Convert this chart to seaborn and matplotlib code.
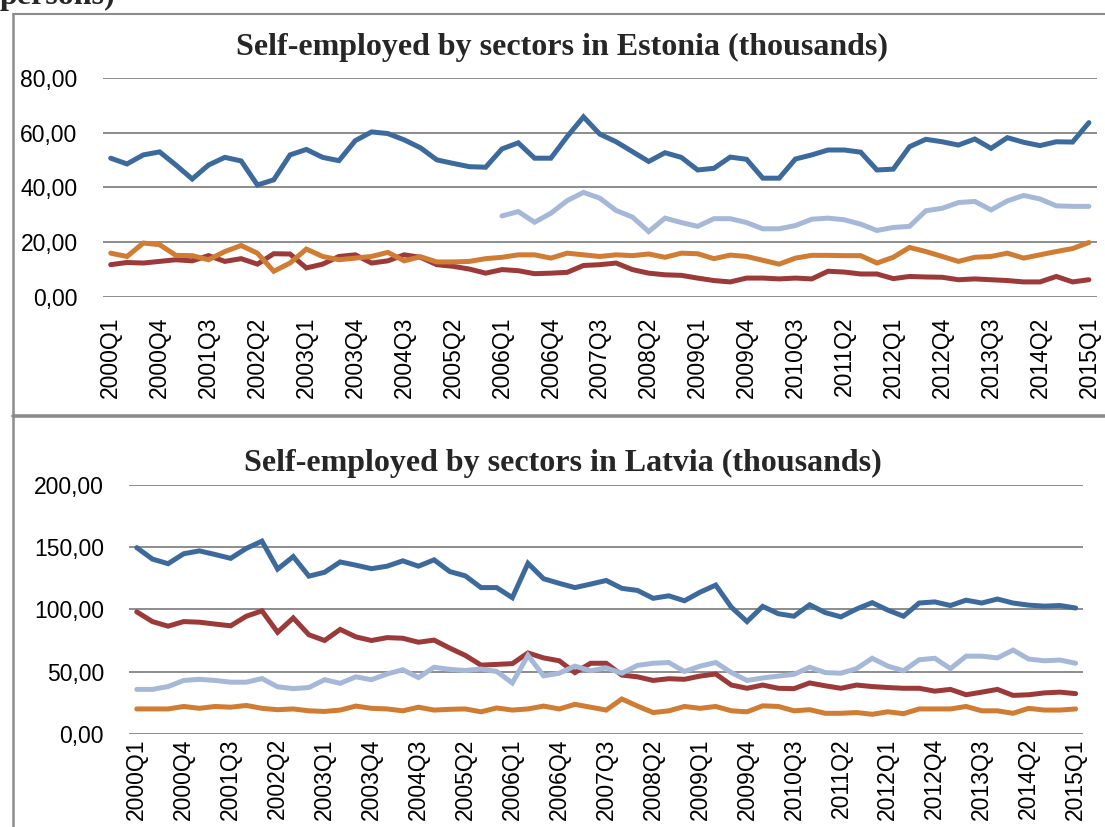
import matplotlib
matplotlib.use("Agg")
import matplotlib.pyplot as plt
from matplotlib.lines import Line2D
import numpy as np
import pandas as pd
import seaborn as sns

quarters = ["%dQ%d" % (y, q) for y in range(2000, 2016) for q in range(1, 5)][:61]
tick_labels = quarters[::3]

est_blue = [50.7, 48.6, 51.9, 53.0, 48.2, 43.1, 48.2, 51.0, 49.7, 40.9, 42.8, 51.9, 53.9, 51.0, 49.8, 57.1,
            60.3, 59.7, 57.4, 54.5, 50.1, 48.8, 47.6, 47.4, 54.1, 56.3, 50.7, 50.7, 58.6, 65.8, 59.5, 56.7,
            53.1, 49.5, 52.7, 51.0, 46.4, 47.0, 51.1, 50.3, 43.4, 43.4, 50.4, 51.9, 53.7, 53.7, 52.9, 46.4,
            46.7, 54.9, 57.6, 56.7, 55.5, 57.7, 54.3, 58.2, 56.5, 55.3, 56.7, 56.6, 63.7]
# light blue series only starts in 2006Q1
est_light = [29.6, 31.2, 27.3, 30.6, 35.2, 38.2, 36.1, 31.6, 29.2, 23.9, 28.8, 27.2, 25.8, 28.6, 28.6, 27.2,
             24.9, 24.9, 26.1, 28.4, 28.8, 28.2, 26.6, 24.3, 25.4, 25.8, 31.5, 32.4, 34.5, 34.9, 31.8, 35.1,
             37.1, 35.8, 33.3, 33.1, 33.1]
est_orange = [16.0, 14.8, 19.7, 19.1, 15.2, 15.1, 13.6, 16.6, 18.8, 16.0, 9.4, 12.4, 17.5, 14.8, 13.6, 14.2,
              14.8, 16.3, 13.2, 14.7, 12.8, 12.8, 13.0, 14.0, 14.5, 15.4, 15.4, 14.2, 16.0, 15.4, 14.8, 15.4,
              15.1, 15.7, 14.5, 16.0, 15.8, 14.0, 15.3, 14.8, 13.4, 12.0, 14.2, 15.2, 15.2, 15.1, 15.1, 12.4,
              14.5, 18.1, 16.6, 14.8, 13.0, 14.5, 14.8, 16.0, 14.2, 15.4, 16.6, 17.7, 19.9]
est_red = [11.8, 12.6, 12.4, 13.0, 13.6, 13.2, 15.1, 13.0, 14.0, 12.0, 15.8, 15.7, 10.6, 12.0, 14.8, 15.4,
           12.4, 13.2, 15.4, 14.5, 11.8, 11.2, 10.2, 8.7, 10.0, 9.6, 8.5, 8.7, 9.0, 11.5, 11.8, 12.4,
           10.0, 8.7, 8.1, 7.9, 6.9, 6.0, 5.5, 6.9, 6.9, 6.6, 6.9, 6.6, 9.4, 9.1, 8.4, 8.4,
           6.7, 7.5, 7.3, 7.2, 6.3, 6.6, 6.3, 6.0, 5.5, 5.5, 7.5, 5.5, 6.3]

lat_blue = [149.7, 140.5, 136.8, 144.8, 147.1, 144.2, 141.1, 149.1, 154.9, 132.5, 142.5, 126.8, 129.9, 138.2,
            135.6, 132.8, 134.8, 139.1, 134.8, 139.9, 130.5, 127.0, 117.6, 117.6, 109.5, 137.1, 124.7, 121.0,
            117.6, 120.4, 123.3, 117.0, 115.3, 109.0, 111.0, 107.0, 113.9, 119.6, 101.8, 90.3, 102.5, 96.6,
            94.6, 103.8, 97.5, 94.1, 100.4, 105.5, 99.5, 94.6, 105.2, 106.1, 103.2, 107.5, 105.2, 108.4,
            105.2, 103.5, 102.7, 103.2, 101.2]
lat_red = [98.1, 90.3, 86.6, 90.3, 89.8, 88.3, 86.9, 94.6, 98.9, 81.7, 93.2, 79.7, 75.1, 84.0, 78.0, 75.1,
           77.4, 76.9, 73.7, 75.4, 69.0, 63.1, 55.3, 55.9, 56.5, 65.1, 61.1, 58.8, 49.3, 56.8, 56.8, 47.3,
           45.9, 43.0, 44.4, 43.9, 46.5, 48.2, 39.3, 36.7, 39.3, 36.7, 36.4, 41.0, 38.7, 36.7, 39.3, 38.1,
           37.3, 36.7, 36.7, 34.4, 35.8, 31.5, 33.6, 35.8, 31.0, 31.5, 33.0, 33.6, 32.4]
lat_light = [35.8, 35.8, 38.1, 43.0, 43.9, 43.0, 41.6, 41.6, 44.5, 37.9, 36.4, 37.3, 43.6, 40.7, 45.9, 43.6,
             48.2, 51.6, 45.3, 53.6, 51.9, 51.0, 52.2, 50.2, 41.0, 63.1, 46.7, 48.8, 54.5, 50.8, 53.1, 48.8,
             55.1, 56.8, 57.4, 50.2, 54.5, 57.4, 49.3, 43.0, 45.0, 46.5, 47.9, 53.6, 49.3, 48.8, 52.5, 60.8,
             54.5, 50.8, 59.6, 60.8, 52.5, 62.5, 62.5, 61.1, 67.4, 60.2, 58.8, 59.4, 56.8]
lat_orange = [20.1, 20.1, 20.1, 22.1, 20.6, 22.1, 21.5, 22.9, 20.6, 19.5, 20.1, 18.6, 18.1, 19.2, 22.4, 20.6,
              20.1, 18.6, 21.5, 19.2, 19.8, 20.1, 17.8, 20.9, 19.2, 20.1, 22.4, 20.1, 23.8, 21.5, 19.2, 28.1,
              22.4, 17.2, 18.6, 22.1, 20.6, 22.1, 18.6, 17.8, 22.6, 22.1, 18.6, 19.5, 16.6, 16.6, 17.2, 15.8,
              17.8, 16.3, 20.1, 20.1, 20.1, 22.1, 18.6, 18.6, 16.6, 20.6, 19.2, 19.2, 20.1]

BLUE = "#3d6a9c"
RED = "#9c3a3a"
LIGHT = "#a6b8d8"
ORANGE = "#d07c33"
GRID = "#8c8c8c"

sns.set_theme(style="white")
plt.rcParams["font.family"] = ["Liberation Sans", "DejaVu Sans"]


def fmt(v, pos):
    return ("%.2f" % v).replace(".", ",")


def draw_panel(ax, series, ymax, ystep, xpad, ypad):
    x = np.arange(len(quarters))
    for vals, color, start in series:
        df = pd.DataFrame({"q": x[start:start + len(vals)], "v": vals})
        sns.lineplot(data=df, x="q", y="v", ax=ax, color=color, linewidth=3.6,
                     solid_joinstyle="miter", solid_capstyle="round")
    ax.set_xlim(-0.5, len(quarters) - 0.5)
    ax.set_ylim(0, ymax)
    ax.set_yticks(np.arange(0, ymax + 1, ystep))
    ax.yaxis.set_major_formatter(matplotlib.ticker.FuncFormatter(fmt))
    ax.set_xticks(x[::3])
    ax.set_xticklabels(tick_labels, rotation=90)
    ax.grid(axis="y", color=GRID, linewidth=1.4)
    ax.set_axisbelow(True)
    for s in ax.spines.values():
        s.set_visible(False)
    ax.tick_params(axis="y", length=0, pad=ypad, labelsize=16.5, colors="black")
    ax.tick_params(axis="x", length=0, pad=xpad, labelsize=16.5, colors="black")
    ax.set_xlabel("")
    ax.set_ylabel("")


fig = plt.figure(figsize=(11.05, 8.27), dpi=100)

ax1 = fig.add_axes([0.0928, 0.6409, 0.900, 0.2648])
draw_panel(ax1, [(est_blue, BLUE, 0), (est_light, LIGHT, 24), (est_red, RED, 0), (est_orange, ORANGE, 0)],
           80, 20, 14, 18)

ax2 = fig.add_axes([0.1167, 0.1125, 0.8638, 0.301])
draw_panel(ax2, [(lat_blue, BLUE, 0), (lat_red, RED, 0), (lat_light, LIGHT, 0), (lat_orange, ORANGE, 0)],
           200, 50, 3, 18)

title_font = dict(family=["Liberation Serif", "DejaVu Serif"], fontweight="bold", fontsize=23,
                  ha="center", va="baseline")
fig.text(0.509, (827 - 55) / 827, "Self-employed by sectors in Estonia (thousands)", **title_font)
fig.text(0.509, (827 - 471) / 827, "Self-employed by sectors in Latvia (thousands)", **title_font)

# cut-off caption line at the very top
fig.text(0.0, (827 - 4) / 827, "persons)", family=["Liberation Serif", "DejaVu Serif"],
         fontweight="bold", fontsize=23, ha="left", va="baseline")


def px_line(x0, y0, x1, y1, lw):
    fig.add_artist(Line2D([x0 / 1105, x1 / 1105], [1 - y0 / 827, 1 - y1 / 827],
                          color=GRID, linewidth=lw, transform=fig.transFigure))


px_line(13, 14, 1105, 14, 1.5)
px_line(13, 14, 13, 827, 1.8)
px_line(13, 416, 1105, 416, 2.6)

fig.savefig("out.png", dpi=100)
